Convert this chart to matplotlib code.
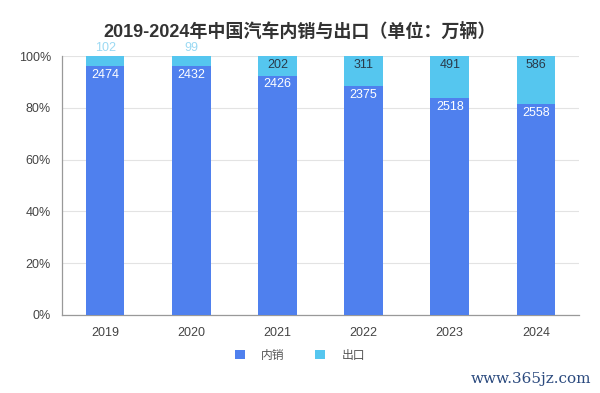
import matplotlib
matplotlib.use("Agg")
import matplotlib.pyplot as plt
from matplotlib.patches import Patch

plt.rcParams['font.family'] = ['Liberation Sans', 'Noto Sans CJK SC', 'DejaVu Sans']

years = ['2019', '2020', '2021', '2022', '2023', '2024']
domestic = [2474, 2432, 2426, 2375, 2518, 2558]
export = [102, 99, 202, 311, 491, 586]
title = '2019-2024年中国汽车内销与出口（单位：万辆）'
legend_labels = ['内销', '出口']

c_dom = '#4f80ee'
c_exp = '#55c6ef'

totals = [d + e for d, e in zip(domestic, export)]
dom_pct = [d / t * 100 for d, t in zip(domestic, totals)]
exp_pct = [e / t * 100 for e, t in zip(export, totals)]

fig = plt.figure(figsize=(6.0, 3.93), dpi=100)
ax = fig.add_axes([0.1033, 0.1985, 0.8617, 0.659])

x = list(range(len(years)))
w = 0.45
ax.bar(x, dom_pct, w, color=c_dom, zorder=3)
ax.bar(x, exp_pct, w, bottom=dom_pct, color=c_exp, zorder=3)

for i in x:
    ax.text(i, dom_pct[i] - 1.0, str(domestic[i]), ha='center', va='top',
            color='white', fontsize=9, zorder=4)
    if exp_pct[i] < 6:
        ax.text(i, 100.6, str(export[i]), ha='center', va='bottom',
                color='#9ad9f3', fontsize=9, zorder=4)
    else:
        ax.text(i, 99.0, str(export[i]), ha='center', va='top',
                color='#2a3a4a', fontsize=9, zorder=4)

ax.set_xlim(-0.5, len(years) - 0.5)
ax.set_ylim(0, 100)
ax.set_yticks([0, 20, 40, 60, 80, 100])
ax.set_yticklabels([f'{v}%' for v in [0, 20, 40, 60, 80, 100]])
ax.set_xticks(x)
ax.set_xticklabels(years)
ax.tick_params(axis='both', length=0, labelsize=9, colors='#444444')
ax.tick_params(axis='y', pad=8)
ax.tick_params(axis='x', pad=9)
ax.yaxis.grid(True, color='#e3e3e3', linewidth=0.8, zorder=0)
for s in ['top', 'right']:
    ax.spines[s].set_visible(False)
for s in ['left', 'bottom']:
    ax.spines[s].set_color('#999999')
    ax.spines[s].set_linewidth(0.9)

fig.text(0.5, 0.918, title, ha='center', va='center', fontsize=13,
         fontweight='bold', color='#333333')

handles = [Patch(facecolor=c_dom), Patch(facecolor=c_exp)]
fig.legend(handles, legend_labels, loc='center', bbox_to_anchor=(0.5, 0.095),
           ncol=2, frameon=False, fontsize=8.5, handlelength=0.8, handleheight=0.8,
           columnspacing=2.6, handletextpad=1.4, labelcolor='#555555')

fig.text(0.985, 0.035, 'www.365jz.com', ha='right', va='center', fontsize=11,
         color='#2b4a7e', family='DejaVu Serif')

fig.savefig('out.png', dpi=100)
